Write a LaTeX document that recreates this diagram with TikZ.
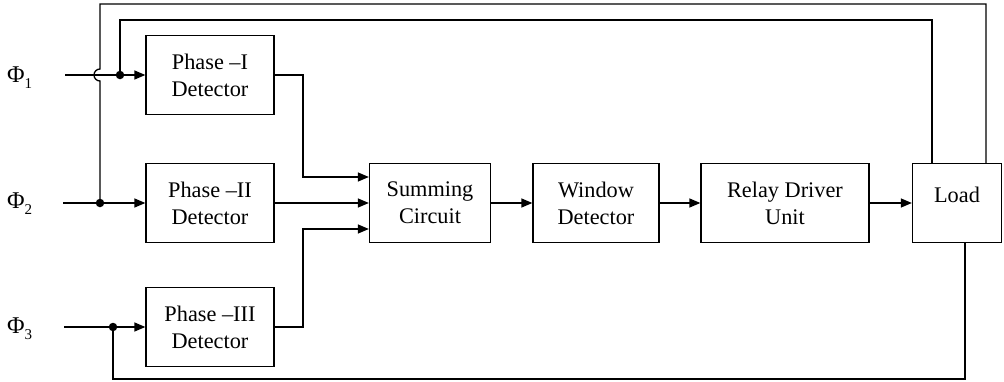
\documentclass[tikz,border=0pt]{standalone}
\usepackage{fontspec}
\setmainfont{Liberation Serif}
\usetikzlibrary{arrows.meta,calc}
\newcommand{\phiin}[1]{{\fontsize{24}{28}\selectfont Φ}\raisebox{-6pt}{\fontsize{15}{18}\selectfont #1}}
\begin{document}
\begin{tikzpicture}[x=1pt,y=-1pt,
  blk/.style={draw, line width=1.3pt, minimum height=79pt, align=center,
    font=\fontsize{22.3}{27}\selectfont, inner sep=0pt},
  wire/.style={line width=1.3pt},
  arr/.style={wire, -{Triangle[length=11pt,width=9pt]}},
  jdot/.style={circle, fill, inner sep=0pt, minimum size=8.5pt},
  lbl/.style={inner sep=0pt, anchor=base west}]
\useasboundingbox (0,0) rectangle (1004,381);

% blocks
\node[blk, minimum width=128pt] (p1) at (210,75) {Phase –I\\Detector};
\node[blk, minimum width=128pt] (p2) at (210,203) {Phase –II\\Detector};
\node[blk, minimum width=128pt] (p3) at (210,327) {Phase –III\\Detector};
\node[blk, minimum width=121pt] (sum) at (430,203) {Summing\\Circuit};
\node[blk, minimum width=126pt] (win) at (596,203) {Window\\Detector};
\node[blk, minimum width=168pt] (rel) at (785,203) {Relay Driver\\Unit};
\node[blk, minimum width=89pt] (load) at (957,203) {\raisebox{16pt}{Load}};

% input labels
\node[lbl] (f1) at (7,82) {\phiin{1}};
\node[lbl] (f2) at (7,208) {\phiin{2}};
\node[lbl] (f3) at (7,333) {\phiin{3}};

% coordinates
\coordinate (i1) at (65,75);
\coordinate (i2) at (63,203);
\coordinate (i3) at (64,327);
\coordinate (hb) at (100,81);
\coordinate (o1) at (100,4);
\coordinate (o2) at (986,4);
\coordinate (n1) at (120,20);
\coordinate (n2) at (932,20);
\coordinate (b1) at (113,379);
\coordinate (b2) at (965,379);
\coordinate (k1) at (303,75);
\coordinate (k3) at (303,327);
\coordinate (s1) at ($(sum.west)+(0,-26)$);
\coordinate (s3) at ($(sum.west)+(0,26)$);

% junction dots
\node[jdot] (d1) at (120,75) {};
\node[jdot] (d2) at (100,203) {};
\node[jdot] (d3) at (113,327) {};

% inputs
\draw[arr] (i1) -- (p1.west);
\draw[arr] (i2) -- (p2.west);
\draw[arr] (i3) -- (p3.west);

% feedback loops
\draw[wire] (d2.center) -- (hb) arc[start angle=270, end angle=90, radius=6pt]
  -- (o1) -- (o2) -- (o2 |- load.north);
\draw[wire] (d1.center) -- (n1) -- (n2) -- (n2 |- load.north);
\draw[wire] (d3.center) -- (b1) -- (b2) -- (b2 |- load.south);

% detector outputs
\draw[arr] (p1.east) -- (k1) |- (s1);
\draw[arr] (p2.east) -- (sum.west);
\draw[arr] (p3.east) -- (k3) |- (s3);

% chain
\draw[arr] (sum.east) -- (win.west);
\draw[arr] (win.east) -- (rel.west);
\draw[arr] (rel.east) -- (load.west);
\end{tikzpicture}
\end{document}
